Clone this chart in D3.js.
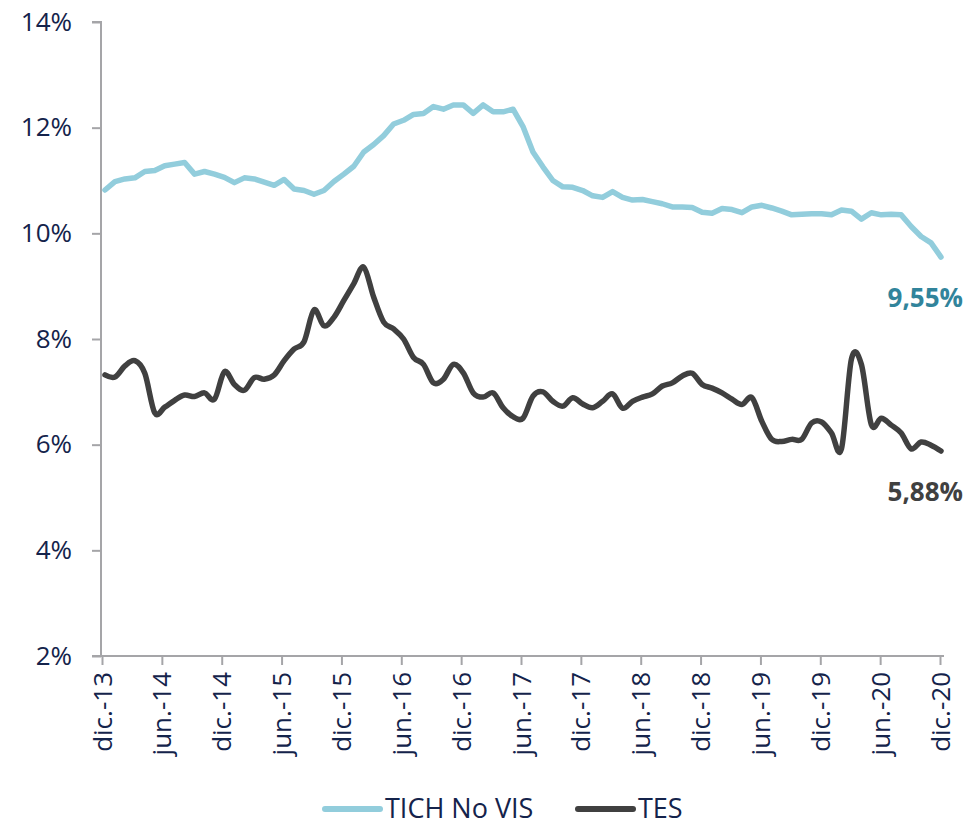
<!DOCTYPE html>
<html>
<head>
<meta charset="utf-8">
<title>TICH No VIS vs TES</title>
<script src="https://d3js.org/d3.v7.min.js"></script>
<style>
    body { margin: 0; background: #fff; }
    text { font-family: "Open Sans", sans-serif; }
</style>
</head>
<body>
<svg id="chart"></svg>
<script>
// monthly series, dic.-13 .. dic.-20 (85 points)
var tich = [10.82, 10.98, 11.03, 11.05, 11.17, 11.19, 11.28, 11.31, 11.34, 11.12,
    11.17, 11.12, 11.06, 10.96, 11.05, 11.03, 10.97, 10.91, 11.02, 10.84,
    10.81, 10.74, 10.81, 10.98, 11.12, 11.27, 11.54, 11.68, 11.85, 12.07,
    12.14, 12.25, 12.27, 12.40, 12.35, 12.43, 12.43, 12.27, 12.43, 12.30,
    12.30, 12.35, 12.02, 11.54, 11.26, 11.00, 10.88, 10.87, 10.81, 10.71,
    10.68, 10.79, 10.68, 10.63, 10.64, 10.60, 10.56, 10.50, 10.50, 10.49,
    10.40, 10.38, 10.47, 10.45, 10.39, 10.50, 10.53, 10.48, 10.42, 10.35,
    10.36, 10.37, 10.37, 10.35, 10.44, 10.42, 10.27, 10.39, 10.35, 10.36,
    10.35, 10.13, 9.94, 9.82, 9.55];
var tes = [7.32, 7.28, 7.49, 7.59, 7.35, 6.60, 6.71, 6.84, 6.94, 6.91,
    6.98, 6.86, 7.38, 7.14, 7.03, 7.27, 7.24, 7.32, 7.59, 7.81,
    7.95, 8.55, 8.25, 8.41, 8.73, 9.05, 9.36, 8.79, 8.32, 8.19,
    8.00, 7.65, 7.52, 7.17, 7.24, 7.52, 7.36, 6.98, 6.90, 6.98,
    6.70, 6.53, 6.50, 6.92, 7.00, 6.82, 6.73, 6.89, 6.77, 6.70,
    6.82, 6.96, 6.69, 6.82, 6.90, 6.96, 7.11, 7.17, 7.30, 7.35,
    7.14, 7.07, 6.98, 6.86, 6.76, 6.89, 6.44, 6.10, 6.06, 6.10,
    6.10, 6.41, 6.43, 6.22, 5.92, 7.62, 7.52, 6.38, 6.50, 6.37,
    6.22, 5.92, 6.05, 5.99, 5.88];
var tickLabels = ["dic.-13", "jun.-14", "dic.-14", "jun.-15", "dic.-15", "jun.-16", "dic.-16",
    "jun.-17", "dic.-17", "jun.-18", "dic.-18", "jun.-19", "dic.-19", "jun.-20", "dic.-20"];
var yTicks = [2, 4, 6, 8, 10, 12, 14];
var seriesNames = ["TICH No VIS", "TES"];
var lastLabels = ["9,55%", "5,88%"];

var W = 971, H = 828;
var plotLeft = 102, plotRight = 940, plotTop = 22, plotBottom = 656;
var textColor = "#14234b", axisColor = "#a5a5a8";
var colors = ["#92cddc", "#404040"];
var labelColors = ["#31849b", "#404040"];

var svg = d3.select("#chart").attr("width", W).attr("height", H);

// points sit a little right of the month ticks (end-of-month values)
var x = d3.scaleLinear().domain([0, tich.length - 1]).range([plotLeft + 3, plotRight + 1]);
var xTick = d3.scaleLinear().domain([0, tich.length - 1]).range([plotLeft, plotRight]);
var y = d3.scaleLinear().domain([2, 14]).range([plotBottom, plotTop]);

// y axis
var yAxis = svg.append("g")
    .attr("transform", "translate(" + (plotLeft - 1) + ",0)")
    .call(d3.axisLeft(y).tickValues(yTicks).tickSize(9).tickPadding(20)
        .tickFormat(function (d) { return d + "%"; }));
yAxis.selectAll("path, line").attr("stroke", axisColor).attr("stroke-width", 2);
yAxis.select(".domain").attr("d", "M-9," + plotTop + "H0V" + plotBottom);
yAxis.selectAll("text").attr("fill", textColor).style("font-size", "26px");

// x axis
var xAxis = svg.append("g")
    .attr("transform", "translate(0," + plotBottom + ")")
    .call(d3.axisBottom(xTick).tickValues(d3.range(0, 85, 6)).tickSize(9)
        .tickFormat(function (d, i) { return tickLabels[i]; }));
xAxis.selectAll("path, line").attr("stroke", axisColor).attr("stroke-width", 2);
xAxis.select(".domain").attr("d", "M" + (plotLeft - 10) + ",0H" + (plotRight + 4));
xAxis.selectAll("text")
    .attr("fill", textColor)
    .style("font-size", "26px")
    .attr("transform", "rotate(-90)")
    .attr("text-anchor", "end")
    .attr("x", -16)
    .attr("y", 0)
    .attr("dy", "0.35em");

// lines
var straight = d3.line()
    .x(function (d, i) { return x(i); })
    .y(function (d) { return y(d); });
var smooth = d3.line()
    .curve(d3.curveCatmullRom.alpha(0))
    .x(function (d, i) { return x(i); })
    .y(function (d) { return y(d); });

svg.append("path").datum(tich)
    .attr("d", straight)
    .attr("fill", "none")
    .attr("stroke", colors[0])
    .attr("stroke-width", 5.5)
    .attr("stroke-linejoin", "round")
    .attr("stroke-linecap", "round");
svg.append("path").datum(tes)
    .attr("d", smooth)
    .attr("fill", "none")
    .attr("stroke", colors[1])
    .attr("stroke-width", 5.5)
    .attr("stroke-linejoin", "round")
    .attr("stroke-linecap", "round");

// end labels
var lastIdx = tich.length - 1;
[tich, tes].forEach(function (s, k) {
    svg.append("text")
        .attr("x", 963)
        .attr("y", y(s[lastIdx]) + 41)
        .attr("dy", "0.35em")
        .attr("text-anchor", "end")
        .attr("fill", labelColors[k])
        .style("font-size", "26px")
        .style("font-weight", "bold")
        .text(lastLabels[k]);
});

// legend
var legend = svg.append("g").attr("transform", "translate(0,809)");
var legendX = [325, 578];
seriesNames.forEach(function (name, k) {
    legend.append("line")
        .attr("x1", legendX[k]).attr("x2", legendX[k] + 55)
        .attr("y1", 0).attr("y2", 0)
        .attr("stroke", colors[k])
        .attr("stroke-width", 6)
        .attr("stroke-linecap", "round");
    legend.append("text")
        .attr("x", legendX[k] + 60)
        .attr("y", 0)
        .attr("dy", "0.35em")
        .attr("fill", textColor)
        .style("font-size", "27px")
        .text(name);
});
</script>
</body>
</html>
